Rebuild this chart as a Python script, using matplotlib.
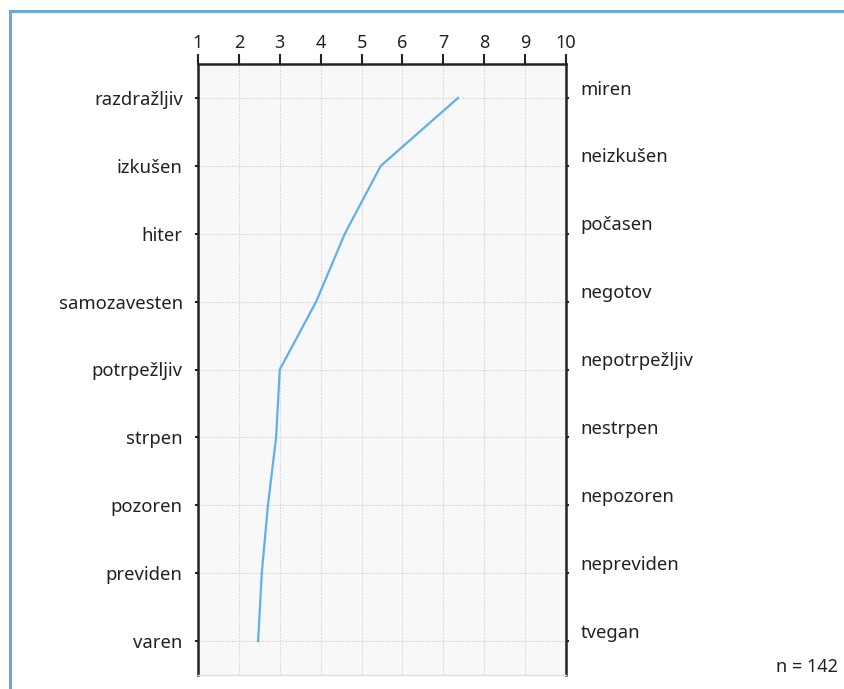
import numpy as np
import matplotlib
matplotlib.use("Agg")
import matplotlib.pyplot as plt
from matplotlib.patches import Rectangle
from matplotlib.transforms import offset_copy

left_labels = ["razdražljiv", "izkušen", "hiter", "samozavesten", "potrpežljiv",
               "strpen", "pozoren", "previden", "varen"]
right_labels = ["miren", "neizkušen", "počasen", "negotov", "nepotrpežljiv",
                "nestrpen", "nepozoren", "nepreviden", "tvegan"]
values = [7.36, 5.47, 4.59, 3.89, 3.0, 2.91, 2.71, 2.56, 2.47]
x_ticks = list(range(1, 11))
n_label = "n = 142"

plt.rcParams['font.family'] = ['Noto Sans', 'DejaVu Sans']

fig = plt.figure(figsize=(8.45, 6.89), dpi=100)
# blue frame around the chart
fig.patches.append(Rectangle((10/845, -0.1), 1.2, 1 - 11/689 + 0.1, transform=fig.transFigure,
                             fill=False, edgecolor='#6aa8e0', lw=2.2, zorder=0))

ax = fig.add_axes([198/845, 14/689, 368/845, 611/689])
ax.set_facecolor('#f8f8f8')
y_pos = np.arange(len(left_labels))

ax.plot(values, y_pos, color='#5fb0ee', lw=1.6, zorder=3)

ax.set_xlim(1, 10)
ax.set_ylim(len(left_labels) - 0.5, -0.5)
ax.set_xticks(x_ticks)
ax.xaxis.tick_top()
ax.tick_params(axis='x', direction='out', length=7, width=1.5, labelsize=13, pad=2, colors='#222222')
ax.set_yticks(y_pos)
ax.set_yticklabels(left_labels)
ax.tick_params(axis='y', direction='out', length=7, width=1.5, labelsize=13.3, pad=9, colors='#222222')
ax.tick_params(axis='y', right=True, length=2)

ax.grid(True, color='#dcdcdc', linestyle=(0, (2, 1)), lw=0.8, zorder=1)

for side in ['left', 'right', 'top']:
    ax.spines[side].set_linewidth(1.8)
    ax.spines[side].set_color('#222222')
ax.spines['bottom'].set_color('#dddddd')
ax.spines['bottom'].set_linewidth(1)

# right-hand labels sit a little above their tick lines
trans = offset_copy(ax.get_yaxis_transform(), fig=fig, x=0, y=6, units='points')
for i, lab in enumerate(right_labels):
    ax.text(1.04, i, lab, transform=trans, ha='left', va='center',
            fontsize=13.3, color='#222222')

fig.text(838/845, 1 - 667/689, n_label, ha='right', va='center', fontsize=13, color='#222222')

fig.savefig("out.png", dpi=100)
